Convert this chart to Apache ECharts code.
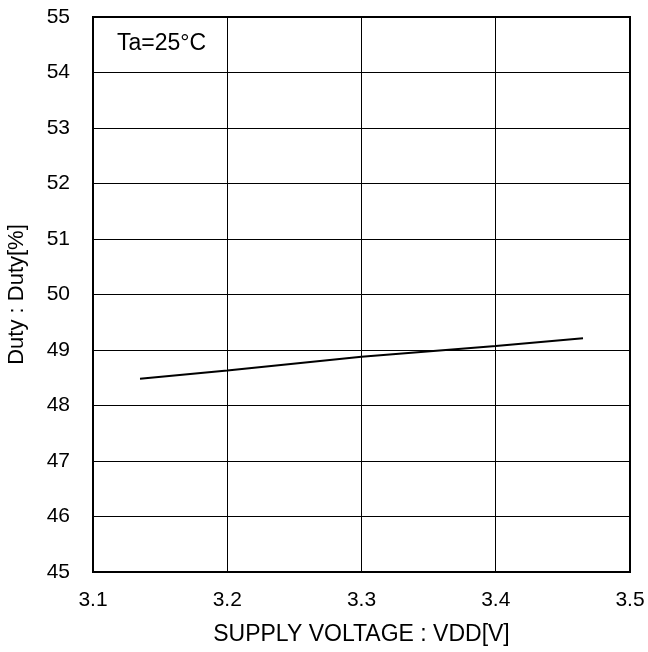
<!DOCTYPE html>
<html><head><meta charset="utf-8">
<script src="https://cdn.jsdelivr.net/npm/echarts@6/dist/echarts.min.js"></script>
<style>html,body{margin:0;padding:0;background:#fff}#c{width:648px;height:652px}</style>
</head><body><div id="c"></div>
<script>
const voltage = [3.135, 3.2, 3.3, 3.4, 3.465];
const duty = [48.48, 48.63, 48.88, 49.07, 49.21];
const xTicks = [3.1, 3.2, 3.3, 3.4, 3.5];
const yTicks = [45, 46, 47, 48, 49, 50, 51, 52, 53, 54, 55];
const font = 'Liberation Sans, Arial, sans-serif';
const chart = echarts.init(document.getElementById('c'), null, {renderer: 'canvas'});
chart.setOption({
  animation: false,
  backgroundColor: '#fff',
  grid: {left: 93, right: 18, top: 17, bottom: 80, show: true, borderColor: '#000', borderWidth: 2, backgroundColor: 'transparent', outerBoundsMode: 'none', containLabel: false},
  xAxis: {
    type: 'value', min: xTicks[0], max: xTicks[xTicks.length-1], interval: 0.1,
    name: 'SUPPLY VOLTAGE : VDD[V]', nameLocation: 'middle', nameGap: 51,
    nameTextStyle: {color: '#000', fontSize: 23, fontFamily: font},
    axisLine: {show: false}, axisTick: {show: false},
    axisLabel: {color: '#000', fontSize: 21, fontFamily: font, margin: 18, formatter: v => v.toFixed(1)},
    splitLine: {show: true, lineStyle: {color: '#000', width: 1}}
  },
  yAxis: {
    type: 'value', min: yTicks[0], max: yTicks[yTicks.length-1], interval: 1,
    name: 'Duty : Duty[%]', nameLocation: 'middle', nameGap: 65, nameRotate: 90,
    nameTextStyle: {color: '#000', fontSize: 22, fontFamily: font},
    axisLine: {show: false}, axisTick: {show: false},
    axisLabel: {color: '#000', fontSize: 21, fontFamily: font, margin: 23},
    splitLine: {show: true, lineStyle: {color: '#000', width: 1}}
  },
  graphic: [{type: 'text', left: 117, top: 32, style: {text: 'Ta=25°C', fill: '#000', font: '23px ' + font}}],
  series: [{
    type: 'line', data: voltage.map((v, i) => [v, duty[i]]),
    showSymbol: false, lineStyle: {color: '#000', width: 2}
  }]
});
</script></body></html>
